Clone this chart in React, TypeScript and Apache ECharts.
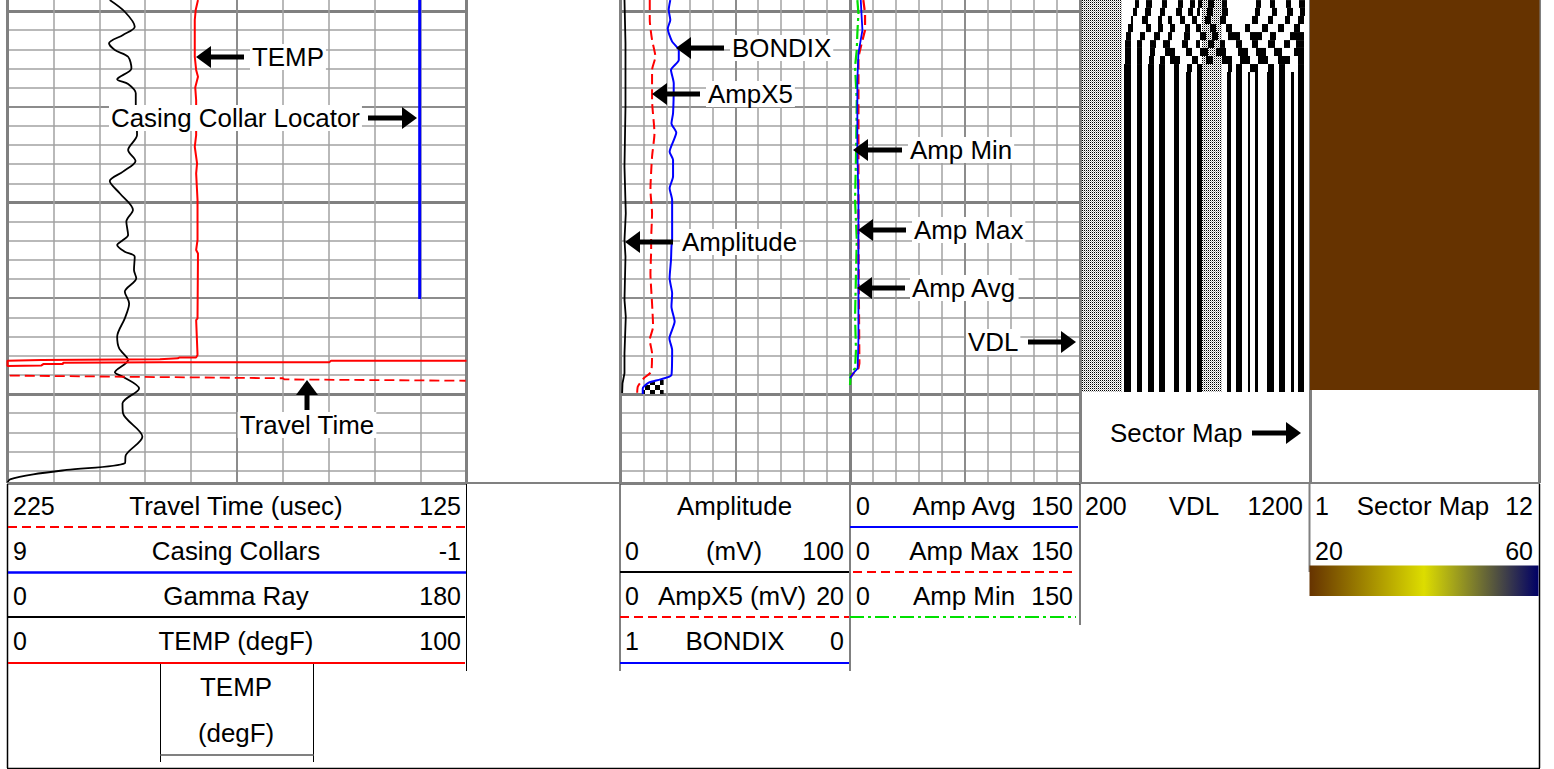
import React, { useEffect, useRef } from "react";
import * as echarts from "echarts";

// ---- depth scale (ft-like units; log depth increases downwards) ----
const DEPTH_MIN = 900;
const DEPTH_MAX = 1246.5;

// ---- Track 1 curves ----
const gammaDepth = [994.3, 1000.4, 1008.2, 1012.5, 1016.9, 1020.4, 1023.9, 1030, 1035.7, 1038.1, 1043, 1048.2, 1057, 1064.8, 1072.6, 1078.3, 1083.9, 1088.8, 1095.2, 1103.9, 1110, 1117, 1119.6, 1122.2, 1125.7, 1128.3, 1135.3, 1139.6, 1146.6, 1152.7, 1160.5, 1170.1, 1176.2, 1182.3, 1188.7, 1191, 1197.1, 1204.9, 1210.1, 1222.3, 1231.9, 1236.2, 1239.7, 1242, 1244.6, 1246.3];
const gammaValue = [40.1, 46, 49.9, 45.3, 39.8, 42.1, 47.3, 48.6, 43, 47.3, 50.3, 50.3, 50.6, 50.8, 47.3, 50.2, 45.3, 40.1, 44, 49.2, 46.6, 47.3, 45.3, 43, 46, 49.9, 49.6, 50.5, 46, 47.7, 46, 43, 43.8, 47.3, 42.1, 45.3, 51.6, 45.1, 45.3, 52.9, 46.4, 46, 23.2, 10.1, 1, 0];
const tempDepth = [994.3, 999.5, 1004.7, 1023.9, 1030.8, 1034.3, 1039.9, 1046.5, 1064.8, 1070.9, 1079.6, 1084.8, 1098.7, 1119.6, 1124.8, 1126.6, 1160.5, 1161.4, 1179.6, 1180.9, 1180.9, 1181.4, 1181.9, 1182.3, 1182.6, 1185.4, 1185.1, 1184.4, 1184.4, 1183.7, 1183.5, 1183.5, 1182.6, 1182.6];
const tempValue = [41.5, 41, 40.8, 40.8, 41.1, 41.5, 40.9, 41.1, 41.1, 40.8, 41.3, 41.1, 41.4, 41.4, 41.1, 41.5, 41.4, 41.1, 41.4, 41.1, 37.5, 37.1, 33.2, 7.4, 0, 0, 7.4, 7.8, 12.1, 12.1, 33.2, 70.1, 70.5, 100];
const travelDepth = [1190.4, 1191, 1191.8, 1192.4, 1193.1];
const travelValue = [224.5, 199.8, 165, 164.7, 125.2];
const collarDepth = [990, 1150.4];
const collarValue = [0.02, 0.02];

// ---- Track 2 curves ----
const amplitudeDepth = [994.3, 1016.9, 1050, 1081.3, 1105.7, 1119.6, 1128.3, 1150.9, 1159.6, 1178.8, 1189.2, 1194.5, 1199.5];
const amplitudeValue = [1.74, 2.17, 2.17, 1.74, 2.3, 1.74, 2.17, 1.74, 2.3, 1.74, 1.74, 0.87, 0.72];
const ampX5Depth = [994.3, 1004.7, 1015.1, 1023.9, 1030.8, 1046.5, 1063.9, 1076.1, 1093.5, 1105.7, 1119.6, 1124.8, 1137, 1152.7, 1164.9, 1171.8, 1178.8, 1188.4, 1191.8, 1196.2, 1200];
const ampX5Value = [2.55, 2.55, 2.75, 3.04, 2.75, 2.75, 2.96, 2.75, 2.61, 2.75, 2.67, 2.67, 2.61, 2.75, 2.84, 2.55, 2.75, 2.67, 2.03, 1.51, 1.45];
const bondixDepth = [994.3, 999.5, 1004.7, 1009.1, 1016, 1020.4, 1025.6, 1030.8, 1037.8, 1053.4, 1058.7, 1063.5, 1073.5, 1077.8, 1086.5, 1092.6, 1098.7, 1119.6, 1123.1, 1130, 1139.6, 1147.5, 1154.4, 1162.2, 1171, 1177, 1190.1, 1192.4, 1194.1, 1197.1, 1200];
const bondixValue = [0.783, 0.79, 0.783, 0.794, 0.775, 0.746, 0.746, 0.78, 0.768, 0.771, 0.778, 0.757, 0.786, 0.771, 0.771, 0.786, 0.775, 0.775, 0.778, 0.78, 0.786, 0.775, 0.778, 0.764, 0.787, 0.775, 0.778, 0.826, 0.877, 0.903, 0.903];
const shadeBondix = [0.903, 0.903, 0.877, 0.826, 0.812, 0.812];
const shadeDepth = [1200, 1197.1, 1194.1, 1192.4, 1192.1, 1200];

// ---- Track 3 curves ----
const ampMinDepth = [994.3, 1001.2, 1011.7, 1020.4, 1029.1, 1046.5, 1072.6, 1098.7, 1119.6, 1137, 1159.6, 1177, 1186.6, 1189.2, 1195.3];
const ampMinValue = [4.8, 5.5, 4.8, 4.4, 3.3, 4.4, 4, 3.3, 4.4, 3.9, 3.3, 3.9, 3.3, 0.5, 0];
const ampMaxDepth = [994.3, 1001.2, 1010, 1016.9, 1023.9, 1063.9, 1119.6, 1184, 1186.6, 1189.2, 1191];
const ampMaxValue = [8.7, 9.8, 9.8, 7.6, 5.5, 5.5, 5.5, 6.1, 5.5, 2.2, 0.5];
const ampAvgDepth = [994.3, 1003, 1010, 1022.1, 1036, 1072.6, 1098.7, 1119.6, 1171.8, 1186.6, 1189.2, 1191.8];
const ampAvgValue = [7, 7.6, 8.1, 5.5, 4.8, 4.8, 5.5, 5.5, 5.5, 5, 2.2, 0];

// ---- VDL: depth rows and the black spans of each row, in waveform samples ----
const vdlRowDepth = [994.3, 998.4, 1002.6, 1006.8, 1011, 1015.2, 1019.3, 1023.5, 1027.7, 1031.9, 1199];
const vdlRowSpans = [
  [55, 59, 66, 72, 82, 87, 98, 103, 110, 115, 118, 122, 128, 134, 142, 147, 176, 181, 190, 195, 206, 211, 219, 225],
  [53, 57, 65, 71, 80, 85, 96, 102, 108, 113, 117, 120, 127, 133, 142, 148, 175, 180, 192, 197, 207, 213, 220, 225],
  [51, 53, 62, 68, 78, 82, 88, 92, 100, 105, 112, 117, 125, 131, 140, 146, 172, 178, 188, 193, 205, 210, 218, 224],
  [48, 53, 66, 71, 78, 83, 90, 95, 105, 110, 116, 121, 130, 136, 146, 152, 165, 170, 182, 188, 198, 204, 214, 220],
  [46, 51, 60, 65, 74, 80, 88, 92, 104, 110, 120, 126, 132, 138, 148, 160, 170, 182, 190, 196, 210, 224],
  [45, 51, 57, 62, 70, 76, 83, 90, 102, 108, 116, 120, 128, 134, 140, 145, 156, 162, 172, 178, 188, 195, 204, 210, 216, 224],
  [45, 51, 57, 62, 70, 75, 85, 95, 106, 112, 120, 128, 136, 146, 158, 168, 176, 186, 194, 202, 214, 224],
  [45, 51, 57, 62, 69, 74, 80, 85, 90, 100, 112, 118, 126, 133, 142, 152, 160, 170, 178, 188, 198, 210, 218, 224],
  [44, 51, 57, 62, 68, 74, 79, 85, 94, 99, 107, 112, 117, 122, 148, 152, 156, 162, 170, 178, 188, 194, 199, 205, 218, 224],
  [44, 51, 57, 62, 68, 74, 79, 85, 94, 99, 106, 111, 117, 122, 147, 151, 156, 162, 168, 170, 175, 178, 187, 194, 199, 205, 211, 214, 218, 224],
];
const vdlGreySpans = [[2, 42], [122, 142]];

// ---- Sector map ----
const sectorSpan = [994.3, 1197.9];
const sectorColor = "#663300";
const scaleColors = ["#663300", "#DDDD00", "#000066"];

// ---- Header texts ----
const track1Rows = [
  ["225", "Travel Time (usec)", "125"],
  ["9", "Casing Collars", "-1"],
  ["0", "Gamma Ray", "180"],
  ["0", "TEMP (degF)", "100"],
];
const track2Rows = [
  ["", "Amplitude", ""],
  ["0", "(mV)", "100"],
  ["0", "AmpX5 (mV)", "20"],
  ["1", "BONDIX", "0"],
];
const track3Rows = [
  ["0", "Amp Avg", "150"],
  ["0", "Amp Max", "150"],
  ["0", "Amp Min", "150"],
];
const track4Rows = [["200", "VDL", "1200"]];
const track5Rows = [["1", "Sector Map", "12"], ["20", "", "60"]];

const FONT = "Liberation Sans";
const FS_WORD = 25.9;
const FS_NUM = 25;
const RED = "#ff0000";
const BLUE = "#0000ff";
const GREEN = "#00e000";
const GREY = "#808080";

const ROW_Y = [506, 551, 596, 641];

function tile(size: number, paint: (c: CanvasRenderingContext2D) => void) {
  const cv = document.createElement("canvas");
  cv.width = size;
  cv.height = size;
  const c = cv.getContext("2d")!;
  c.fillStyle = "#fff";
  c.fillRect(0, 0, size, size);
  paint(c);
  return cv;
}

function buildOption() {
  const grids = [
    { left: 7.5, width: 459 },
    { left: 620.5, width: 229.5 },
    { left: 850, width: 230 },
    { left: 1080, width: 230 },
    { left: 1310, width: 229.5 },
  ].map((g) => ({ ...g, top: -180.5, height: 663.5, show: false, outerBoundsMode: "none" }));

  const xAxis: any[] = [];
  const yAxis: any[] = [];
  const lineStyles = [
    { color: "#a2a2a2", width: 1.5 },
    { color: "#8c8c8c", width: 2 },
    { color: GREY, width: 3 },
  ];
  const ruleAxis = (gridIndex: number, min: number, max: number, interval: number, level: number, extra: any = {}) => ({
    type: "value", gridIndex, min, max, interval,
    axisLine: { show: false }, axisTick: { show: false }, axisLabel: { show: false },
    splitLine: { show: true, lineStyle: lineStyles[level] },
    ...extra,
  });
  const addX = (a: any) => xAxis.push(a) - 1;
  const addY = (a: any) => yAxis.push(a) - 1;
  const hiddenX = (gridIndex: number, min: number, max: number, inverse = false) =>
    addX({ type: "value", gridIndex, min, max, inverse, show: false });

  // ruled depth tracks
  const depthAxes: number[] = [];
  [0, 1, 2].forEach((g) => {
    depthAxes[g] = addY(ruleAxis(g, DEPTH_MIN, DEPTH_MAX, 10, 0, { inverse: true }));
    addY(ruleAxis(g, DEPTH_MIN, DEPTH_MAX, 50, 1, { inverse: true }));
    addY(ruleAxis(g, DEPTH_MIN, DEPTH_MAX, 100, 2, { inverse: true }));
  });
  [3, 4].forEach((g) => {
    depthAxes[g] = addY({ type: "value", gridIndex: g, min: DEPTH_MIN, max: DEPTH_MAX, inverse: true, show: false });
  });

  // Track 1 scales
  const tempX = addX(ruleAxis(0, 0, 100, 10, 0));
  addX(ruleAxis(0, 0, 100, 50, 1));
  addX(ruleAxis(0, 0, 100, 100, 2));
  const gammaX = hiddenX(0, 0, 180);
  const collarX = hiddenX(0, -1, 9, true);
  const travelX = hiddenX(0, 125, 225, true);
  // Track 2 scales
  const ampX = addX(ruleAxis(1, 0, 100, 10, 0));
  addX(ruleAxis(1, 0, 100, 50, 1));
  addX(ruleAxis(1, 0, 100, 100, 2));
  const ampX5X = hiddenX(1, 0, 20);
  const bondixX = hiddenX(1, 0, 1, true);
  // Track 3 scale
  const sonicX = addX(ruleAxis(2, 0, 150, 15, 0));
  addX(ruleAxis(2, 0, 150, 75, 1));
  addX(ruleAxis(2, 0, 150, 150, 2));
  // VDL and sector
  const vdlX = addX(ruleAxis(3, 0, 230, 230, 2));
  const sectorX = addX(ruleAxis(4, 0, 1, 1, 2));

  const line = (name: string, x: number, g: number, depth: number[], value: number[], color: string, width: number, type: any = "solid", smooth: number | boolean = false) => ({
    type: "line", name, xAxisIndex: x, yAxisIndex: depthAxes[g],
    data: depth.map((d, i) => [value[i], d]),
    symbol: "none", smooth, lineStyle: { color, width, type, cap: "butt" }, z: 3,
  });

  const dither = {
    image: tile(2, (c) => {
      c.fillStyle = "#000"; c.fillRect(0, 0, 1, 1);
      c.fillStyle = "#b0b0b0"; c.fillRect(1, 1, 1, 1);
    }),
    repeat: "repeat",
  };
  const checker = {
    image: tile(10, (c) => {
      c.fillStyle = "#000"; c.fillRect(0, 0, 5, 5); c.fillRect(5, 5, 5, 5);
    }),
    repeat: "repeat",
  };

  const spanRect = (fill: any) => (_: any, api: any) => {
    const a = api.coord([api.value(0), api.value(1)]);
    const b = api.coord([api.value(2), api.value(3)]);
    return { type: "rect", shape: { x: a[0], y: a[1], width: b[0] - a[0], height: b[1] - a[1] }, style: { fill } };
  };

  const vdlBlack: number[][] = [];
  vdlRowSpans.forEach((spans, r) => {
    for (let i = 0; i < spans.length; i += 2) {
      vdlBlack.push([spans[i], vdlRowDepth[r], spans[i + 1], vdlRowDepth[r + 1]]);
    }
  });
  const vdlGrey = vdlGreySpans.map((s) => [s[0], vdlRowDepth[0], s[1], vdlRowDepth[vdlRowDepth.length - 1]]);

  const series: any[] = [
    { type: "custom", name: "Sector Map", coordinateSystem: "cartesian2d", xAxisIndex: sectorX, yAxisIndex: depthAxes[4],
      renderItem: spanRect(sectorColor), data: [[0, sectorSpan[0], 1, sectorSpan[1]]], z: 1 },
    { type: "custom", name: "VDL grey", coordinateSystem: "cartesian2d", xAxisIndex: vdlX, yAxisIndex: depthAxes[3],
      renderItem: spanRect(dither), data: vdlGrey, z: 1 },
    { type: "custom", name: "VDL", coordinateSystem: "cartesian2d", xAxisIndex: vdlX, yAxisIndex: depthAxes[3],
      renderItem: spanRect("#000"), data: vdlBlack, z: 2 },
    { type: "custom", name: "Bond shading", coordinateSystem: "cartesian2d", xAxisIndex: bondixX, yAxisIndex: depthAxes[1],
      renderItem: (_: any, api: any) => ({
        type: "polygon",
        shape: { points: shadeBondix.map((b, i) => api.coord([b, shadeDepth[i]])) },
        style: { fill: checker },
      }),
      data: [[shadeBondix[0], shadeDepth[0]]], z: 2 },
    line("Gamma Ray", gammaX, 0, gammaDepth, gammaValue, "#000", 1.8, "solid", 0.3),
    line("TEMP", tempX, 0, tempDepth, tempValue, RED, 2),
    line("Travel Time", travelX, 0, travelDepth, travelValue, RED, 1.8, [10, 5]),
    line("Casing Collars", collarX, 0, collarDepth, collarValue, BLUE, 3),
    line("Amplitude", ampX, 1, amplitudeDepth, amplitudeValue, "#000", 1.8),
    line("AmpX5", ampX5X, 1, ampX5Depth, ampX5Value, RED, 2, [10, 5], 0.2),
    line("BONDIX", bondixX, 1, bondixDepth, bondixValue, BLUE, 2, "solid", 0.2),
    line("Amp Min", sonicX, 2, ampMinDepth, ampMinValue, GREEN, 2.2, [14, 4, 3, 4]),
    line("Amp Max", sonicX, 2, ampMaxDepth, ampMaxValue, RED, 2.2, [10, 5]),
    line("Amp Avg", sonicX, 2, ampAvgDepth, ampAvgValue, BLUE, 1.8),
  ];

  // ---- graphic: header panel and annotations ----
  const g: any[] = [];
  const seg = (x1: number, y1: number, x2: number, y2: number, stroke: string, lineWidth: number, lineDash?: number[]) =>
    g.push({ type: "line", z: 50, silent: true, shape: { x1, y1, x2, y2 }, style: { stroke, lineWidth, lineDash, fill: null } });
  const txt = (text: string, x: number, y: number, align: string, bg = false) => {
    if (!text) return;
    const size = /^[-0-9]+$/.test(text) ? FS_NUM : FS_WORD;
    g.push({ type: "text", z: bg ? 60 : 50, silent: true, x, y, style: {
      text, x: 0, y: 0, align, verticalAlign: "middle", fill: "#000",
      font: `${size}px "${FONT}"`, ...(bg ? { backgroundColor: "#fff", padding: [0, 2] } : {}),
    } });
  };
  const rows = (data: string[][], l: number, c: number | number[], r: number) =>
    data.forEach((row, i) => {
      txt(row[0], l, ROW_Y[i], "left");
      txt(row[1], Array.isArray(c) ? c[i] : c, ROW_Y[i], "center");
      txt(row[2], r, ROW_Y[i], "right");
    });

  rows(track1Rows, 13, 236, 461);
  rows(track2Rows, 625, [734.5, 734, 732, 735], 844);
  rows(track3Rows, 856, 964, 1073);
  rows(track4Rows, 1085, 1194, 1303);
  rows(track5Rows, 1315, 1423, 1533);
  txt("TEMP", 236, 687, "center");
  txt("(degF)", 236, 733, "center");

  // frame and column rules
  seg(7.5, 483, 1540, 483, GREY, 2);
  seg(7.5, 484, 7.5, 768, "#000", 1.5);
  seg(7, 768.5, 1540, 768.5, "#000", 1.5);
  seg(1539.5, 484, 1539.5, 768, "#000", 1.5);
  seg(466.5, 484, 466.5, 671, "#000", 1);
  seg(620, 484, 620, 671, "#000", 1);
  seg(850, 484, 850, 671, GREY, 2);
  seg(1080, 484, 1080, 625, "#000", 1);
  seg(1309.5, 484, 1309.5, 572, GREY, 2);
  seg(160.5, 663, 160.5, 762, "#000", 1);
  seg(313.5, 663, 313.5, 762, "#000", 1);
  seg(160.5, 755, 313.5, 755, GREY, 2);

  // curve keys below the header rows
  seg(8, 527, 466, 527, RED, 1.8, [9, 5]);
  seg(8, 572.5, 466, 572.5, BLUE, 2.5);
  seg(8, 617, 465, 617, "#000", 1.8);
  seg(8, 663, 465, 663, RED, 2);
  seg(620, 572, 849, 572, "#000", 1.8);
  seg(620, 617, 849, 617, RED, 1.8, [9, 5]);
  seg(620, 663, 849, 663, BLUE, 2);
  seg(850, 527, 1078, 527, BLUE, 2);
  seg(853, 572, 1075, 572, RED, 1.8, [9, 5]);
  seg(850, 617, 1076, 617, GREEN, 1.8, [14, 4, 3, 4]);

  // sector map colour scale
  g.push({ type: "rect", z: 50, silent: true, shape: { x: 1309.5, y: 565.5, width: 229, height: 30.5 }, style: {
    fill: new echarts.graphic.LinearGradient(0, 0, 1, 0, scaleColors.map((color, i) => ({ offset: i / (scaleColors.length - 1), color }))),
  } });

  // annotations
  const arrow = (x1: number, y1: number, tx: number, ty: number) => {
    const horizontal = y1 === ty;
    const dir = horizontal ? Math.sign(tx - x1) : Math.sign(ty - y1);
    const head = 15, half = 11;
    if (horizontal) {
      seg(x1, y1, tx - dir * head, ty, "#000", 5);
      g.push({ type: "polygon", z: 61, silent: true, shape: { points: [[tx, ty], [tx - dir * head, ty - half], [tx - dir * head, ty + half]] }, style: { fill: "#000" } });
    } else {
      seg(x1, y1, tx, ty - dir * head, "#000", 5);
      g.push({ type: "polygon", z: 61, silent: true, shape: { points: [[tx, ty], [tx - half, ty - dir * head], [tx + half, ty - dir * head]] }, style: { fill: "#000" } });
    }
  };
  const note = (text: string, x: number, y: number, align = "left") => txt(text, x, y, align, true);

  note("TEMP", 250, 57); arrow(244, 57, 196, 57);
  note("Casing Collar Locator", 109, 118); arrow(368, 118, 417, 118);
  note("Travel Time", 307, 425, "center"); arrow(307, 410, 307, 380);
  note("BONDIX", 730, 48); arrow(724, 48, 676, 48);
  note("AmpX5", 706, 94); arrow(700, 94, 652, 94);
  note("Amplitude", 680, 242); arrow(673, 242, 625, 242);
  note("Amp Min", 908, 150); arrow(902, 150, 853, 150);
  note("Amp Max", 912, 230); arrow(906, 230, 858, 230);
  note("Amp Avg", 910, 288); arrow(905, 288, 857, 288);
  note("VDL", 966, 342); arrow(1028, 342, 1076, 342);
  note("Sector Map", 1108, 433); arrow(1252, 433, 1301, 433);

  return {
    animation: false,
    backgroundColor: "#fff",
    grid: grids,
    xAxis,
    yAxis,
    series,
    graphic: { elements: g },
  };
}

export default function App() {
  const ref = useRef<HTMLDivElement>(null);
  useEffect(() => {
    const chart = echarts.init(ref.current!, undefined, { renderer: "svg" });
    chart.setOption(buildOption() as any);
    return () => chart.dispose();
  }, []);
  return <div ref={ref} style={{ position: "absolute", left: 0, top: 0, width: 1554, height: 769, background: "#fff" }} />;
}
